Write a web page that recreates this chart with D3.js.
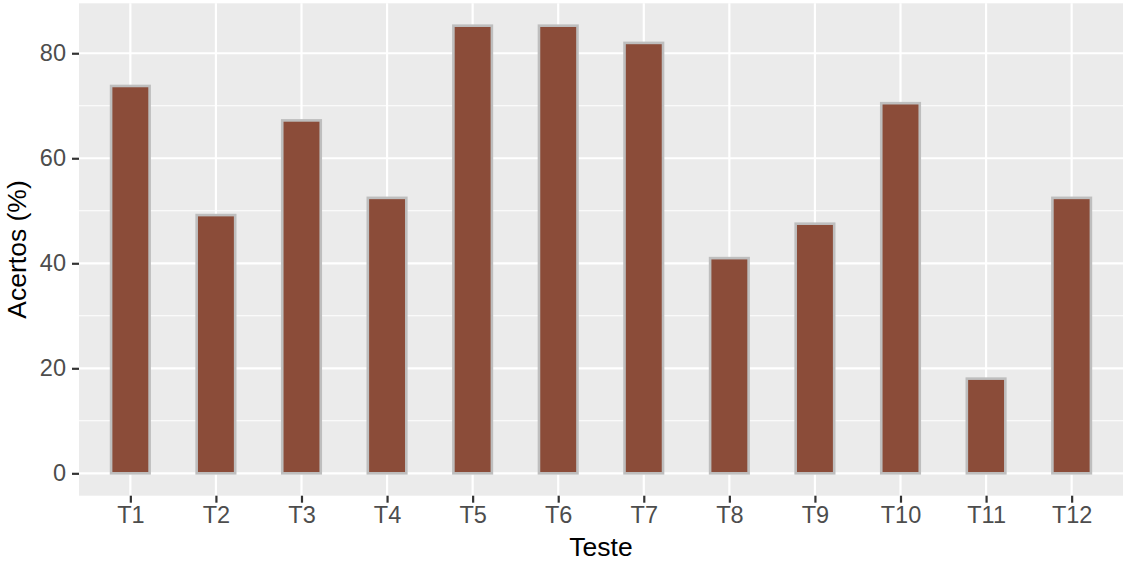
<!DOCTYPE html>
<html>
<head>
<meta charset="utf-8">
<script src="https://cdn.jsdelivr.net/npm/d3@7"></script>
<style>
  html, body { margin: 0; padding: 0; background: #ffffff; }
  svg { display: block; font-family: "Liberation Sans", Arial, Helvetica, sans-serif; }
</style>
</head>
<body>
<svg id="chart" width="1123" height="561"></svg>
<script>
const categories = ["T1","T2","T3","T4","T5","T6","T7","T8","T9","T10","T11","T12"];
const acertos = [73.77, 49.18, 67.21, 52.46, 85.25, 85.25, 81.97, 40.98, 47.54, 70.49, 18.03, 52.46];
const yTicks = [0, 20, 40, 60, 80];
const yMinorTicks = [10, 30, 50, 70];
const xTitle = "Teste";
const yTitle = "Acertos (%)";

const svg = d3.select("#chart");
const panel = { left: 79, right: 1123, top: 3.3, bottom: 495.7 };

const maxV = d3.max(acertos);
const x = d3.scalePoint().domain(categories).range([panel.left, panel.right]).padding(0.6);
const y = d3.scaleLinear().domain([-0.05 * maxV, 1.05 * maxV]).range([panel.bottom, panel.top]);

// panel background
svg.append("rect")
  .attr("x", panel.left).attr("y", panel.top)
  .attr("width", panel.right - panel.left).attr("height", panel.bottom - panel.top)
  .attr("fill", "#EBEBEB");

// minor grid
svg.append("g").selectAll("line").data(yMinorTicks).join("line")
  .attr("x1", panel.left).attr("x2", panel.right)
  .attr("y1", d => y(d)).attr("y2", d => y(d))
  .attr("stroke", "#ffffff").attr("stroke-width", 1.1);

// major grid
svg.append("g").selectAll("line").data(yTicks).join("line")
  .attr("x1", panel.left).attr("x2", panel.right)
  .attr("y1", d => y(d)).attr("y2", d => y(d))
  .attr("stroke", "#ffffff").attr("stroke-width", 2.2);
svg.append("g").selectAll("line").data(categories).join("line")
  .attr("x1", d => x(d)).attr("x2", d => x(d))
  .attr("y1", panel.top).attr("y2", panel.bottom)
  .attr("stroke", "#ffffff").attr("stroke-width", 2.2);

// bars
const barW = x.step() * 0.45;
svg.append("g").selectAll("rect").data(categories).join("rect")
  .attr("x", d => x(d) - barW / 2)
  .attr("width", barW)
  .attr("y", (d, i) => y(acertos[i]))
  .attr("height", (d, i) => y(0) - y(acertos[i]))
  .attr("fill", "#8B4C39")
  .attr("stroke", "#BEBEBE")
  .attr("stroke-width", 2.6);

// y axis
const yAxis = d3.axisLeft(y).tickValues(yTicks).tickSize(7).tickPadding(6);
const gy = svg.append("g").attr("transform", `translate(${panel.left},0)`).call(yAxis);
gy.select(".domain").remove();
gy.selectAll(".tick line").attr("stroke", "#333333").attr("stroke-width", 2.2);
gy.selectAll(".tick text").attr("fill", "#4D4D4D").style("font-size", "23.5px")
  .style("font-family", "'Liberation Sans', Arial, sans-serif");

// x axis
const xAxis = d3.axisBottom(x).tickSize(7).tickPadding(4);
const gx = svg.append("g").attr("transform", `translate(0,${panel.bottom})`).call(xAxis);
gx.select(".domain").remove();
gx.selectAll(".tick line").attr("stroke", "#333333").attr("stroke-width", 2.2);
gx.selectAll(".tick text").attr("fill", "#4D4D4D").style("font-size", "23.5px")
  .style("font-family", "'Liberation Sans', Arial, sans-serif");

// titles
svg.append("text")
  .attr("x", (panel.left + panel.right) / 2).attr("y", 555.5)
  .attr("text-anchor", "middle").attr("fill", "#000000")
  .style("font-size", "26.5px").text(xTitle);
svg.append("text")
  .attr("transform", `translate(26,${(panel.top + panel.bottom) / 2}) rotate(-90)`)
  .attr("text-anchor", "middle").attr("fill", "#000000")
  .style("font-size", "26.5px").text(yTitle);
</script>
</body>
</html>
